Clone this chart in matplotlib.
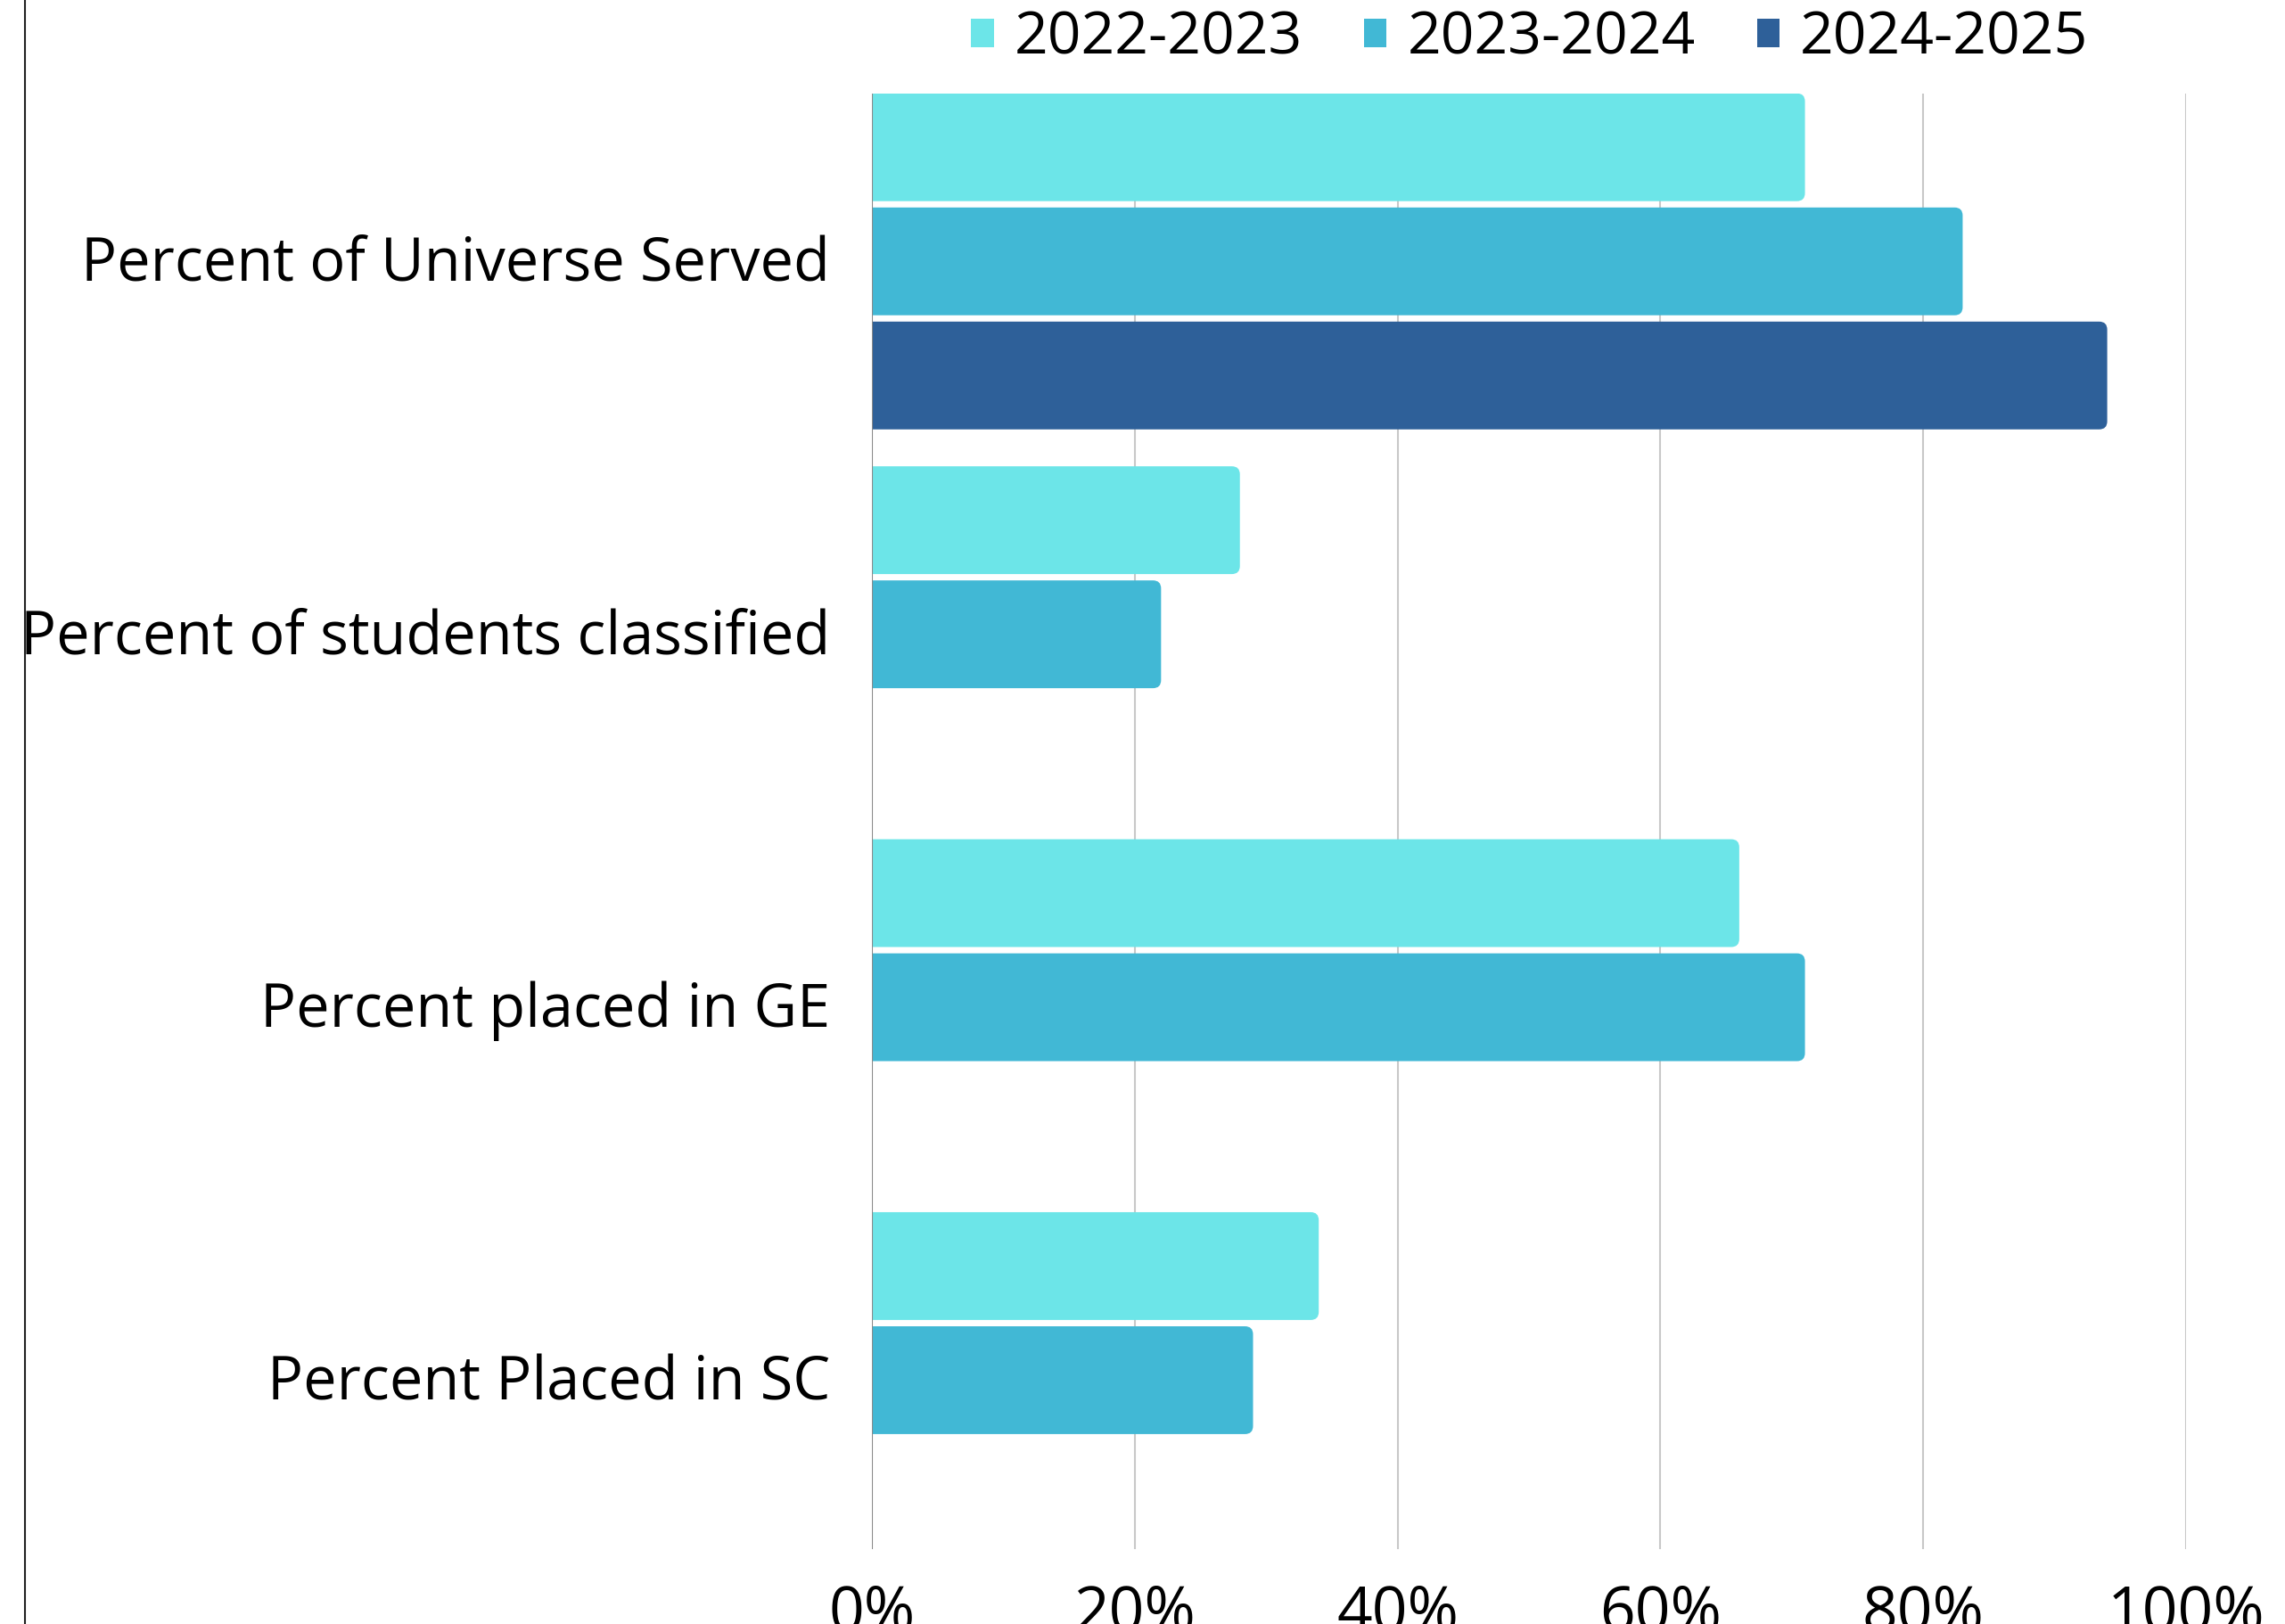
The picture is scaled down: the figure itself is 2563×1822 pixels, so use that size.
import matplotlib.pyplot as plt
from matplotlib.patches import FancyBboxPatch, Patch
from matplotlib.lines import Line2D
import numpy as np

plt.rcParams['font.family'] = ['Open Sans', 'DejaVu Sans']

categories = ['Percent of Universe Served', 'Percent of students classified',
              'Percent placed in GE', 'Percent Placed in SC']
years = ['2022-2023', '2023-2024', '2024-2025']
vals_2022 = [71, 28, 66, 34]
vals_2023 = [83, 22, 71, 29]
vals_2024 = [94, None, None, None]
series = [vals_2022, vals_2023, vals_2024]
colors = ['#6CE5E8', '#41B8D5', '#2E6099']
xticks = [0, 20, 40, 60, 80, 100]

fig = plt.figure(figsize=(25.63, 18.22), dpi=100)
ax = fig.add_axes([0.3816, 0.0461, 0.5751, 0.8963])

bar_h = 0.289
pitch = 0.306
offsets = [-pitch, 0, pitch]
r = 0.61  # corner radius in x units
aspect = 0.0354

y = np.arange(len(categories))
for vals, off, col in zip(series, offsets, colors):
    for yi, v in zip(y, vals):
        if v is None:
            continue
        p = FancyBboxPatch((-3, yi + off - bar_h / 2), v + 3, bar_h,
                           boxstyle='round,pad=0,rounding_size=%g' % r,
                           mutation_aspect=aspect, facecolor=col,
                           edgecolor='none', zorder=3)
        ax.add_patch(p)

ax.set_xlim(0, 100)
ax.set_ylim(3.453, -0.45)
ax.set_xticks(xticks)
ax.set_xticklabels(['%d%%' % t for t in xticks], fontsize=50)
ax.set_yticks(y - 0.01)
ax.set_yticklabels(categories, fontsize=48)
ax.tick_params(axis='both', length=0)
ax.tick_params(axis='y', pad=34)
ax.tick_params(axis='x', pad=28)
for s in ax.spines.values():
    s.set_visible(False)
for t in xticks[1:]:
    ax.axvline(t, color='#C8C8C8', lw=1.5, zorder=1)
ax.axvline(0, color='#8A8A8A', lw=1.5, zorder=4)

handles = [Patch(facecolor=c, edgecolor='none') for c in colors]
fig.legend(handles, years, loc='center', bbox_to_anchor=(0.6695, 0.976),
           ncol=3, frameon=False, fontsize=47.5, handlelength=0.38,
           handleheight=0.38, handletextpad=0.35, columnspacing=1.05)

fig.add_artist(Line2D([28 / 2563, 28 / 2563], [0, 1], color='#222222', lw=1.5))

fig.savefig('out.png', dpi=100)
